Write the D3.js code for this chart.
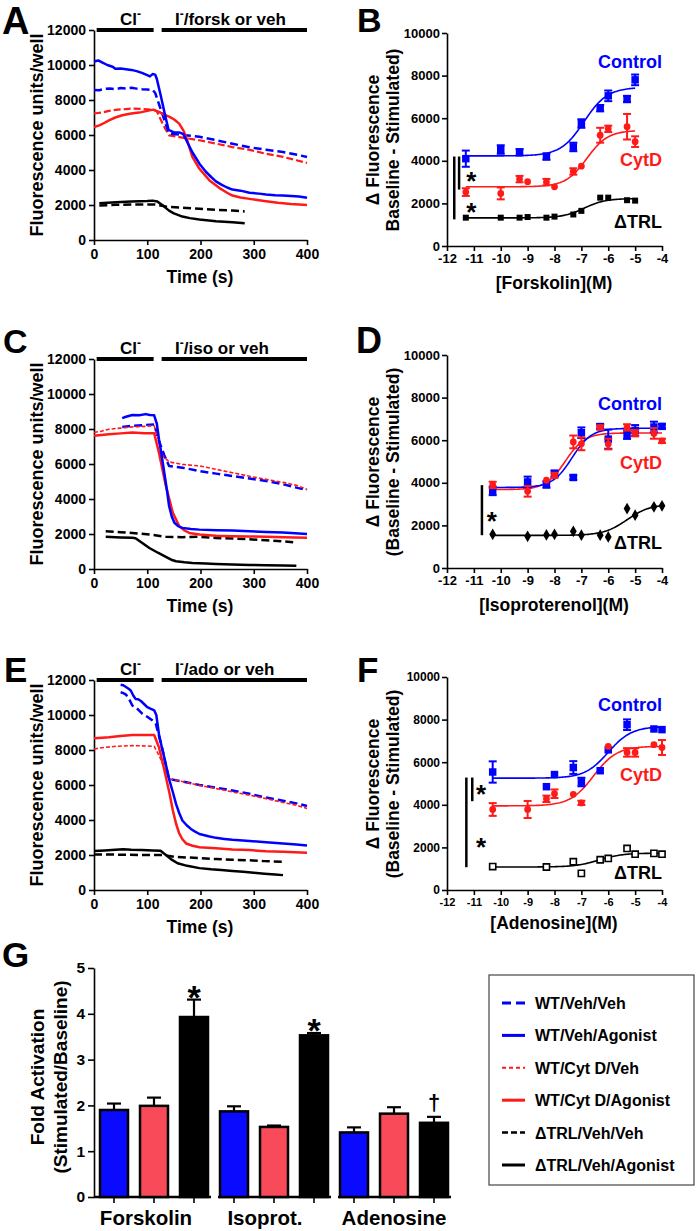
<!DOCTYPE html>
<html><head><meta charset="utf-8">
<script src="https://cdn.jsdelivr.net/npm/d3@7"></script>
<style>body{margin:0;background:#fff}svg{display:block}</style>
</head><body>
<svg id="c" width="697" height="1231"></svg>
<script>
// ---------------- DATA ----------------
// Time courses: [time (s), fluorescence units/well]
const aWtVeh = [[0,8570],[10,8560],[20,8640],[30,8660],[40,8620],[50,8680],[60,8660],[70,8700],[80,8650],[90,8620],[100,8600],[110,8580],[115,8400],[125,7500],[135,6600],[141,6080],[150,6050],[170,5990],[198,5900],[230,5700],[260,5500],[292,5300],[323,5160],[355,5030],[386,4840],[400,4740]];
const aWtAg = [[0,10200],[8,10260],[15,10150],[25,10000],[35,9900],[40,9780],[50,9800],[60,9760],[70,9720],[80,9650],[90,9550],[100,9420],[105,9350],[110,9480],[115,9450],[118,9200],[125,8300],[133,7200],[140,6300],[150,6150],[160,6150],[168,6050],[175,5600],[185,5000],[198,4360],[210,3900],[220,3600],[229,3350],[240,3150],[250,3000],[260,2880],[275,2820],[292,2700],[310,2650],[323,2600],[340,2560],[355,2540],[370,2520],[385,2480],[400,2410]];
const aCytVeh = [[0,7230],[15,7280],[28,7380],[45,7450],[60,7480],[72,7510],[90,7490],[100,7470],[111,7450],[118,7350],[125,6900],[133,6400],[141,5980],[160,5880],[198,5700],[230,5500],[260,5310],[292,5150],[323,4930],[355,4750],[380,4560],[400,4400]];
const aCytAg = [[0,6460],[10,6550],[20,6700],[28,6840],[40,7000],[53,7130],[70,7230],[85,7280],[100,7380],[111,7450],[122,7320],[133,7150],[141,7050],[150,6900],[160,6650],[168,6250],[173,5890],[180,5200],[185,4740],[198,4070],[210,3650],[217,3400],[235,2980],[250,2700],[260,2540],[275,2430],[292,2350],[310,2270],[323,2220],[345,2130],[370,2060],[400,2000]];
const aTrlVeh = [[10,1970],[40,2010],[70,2030],[100,2030],[115,2030],[135,1910],[166,1840],[198,1780],[229,1720],[260,1680],[283,1630]];
const aTrlAg = [[10,2100],[41,2160],[70,2200],[100,2230],[110,2250],[119,2200],[130,1950],[141,1680],[150,1520],[166,1340],[180,1250],[198,1170],[229,1070],[260,1010],[283,960]];

const cWtVeh = [[53,8120],[72,8180],[90,8220],[105,8250],[113,8260],[122,7320],[132,6500],[141,5890],[166,5790],[198,5600],[229,5450],[260,5310],[292,5170],[323,5030],[355,4840],[380,4650],[400,4510]];
const cWtAg = [[53,8620],[60,8700],[72,8800],[85,8780],[97,8850],[105,8800],[113,8780],[118,8300],[122,7420],[127,6500],[132,5500],[137,4500],[141,3600],[146,3000],[151,2640],[158,2450],[166,2350],[182,2280],[198,2250],[230,2220],[260,2200],[292,2160],[323,2120],[355,2080],[400,2000]];
const cCytVeh = [[0,7800],[15,7880],[28,7990],[50,8050],[72,8120],[95,8150],[113,8180],[120,7500],[129,6460],[141,6120],[166,5980],[198,5890],[229,5700],[260,5500],[292,5300],[323,5120],[355,4950],[380,4780],[400,4550]];
const cCytAg = [[0,7610],[28,7700],[50,7750],[72,7800],[95,7760],[113,7760],[122,6650],[135,4740],[148,3210],[160,2450],[170,2200],[179,2060],[198,1970],[229,1900],[260,1870],[292,1860],[323,1840],[355,1810],[400,1780]];
const cTrlVeh = [[22,2160],[50,2100],[72,2060],[104,1970],[135,1840],[166,1820],[198,1840],[229,1770],[260,1740],[292,1700],[323,1640],[355,1580],[374,1530]];
const cTrlAg = [[22,1840],[50,1800],[72,1780],[78,1760],[90,1500],[104,1200],[120,930],[135,690],[145,530],[154,440],[170,380],[185,340],[210,310],[229,290],[260,260],[292,230],[323,220],[355,200],[380,190]];

const eWtVeh = [[50,11300],[55,11250],[60,11170],[66,10900],[72,10540],[80,10400],[91,10060],[100,9900],[110,9680],[116,9500],[122,8800],[129,7980],[135,7100],[141,6340],[166,6200],[198,6000],[229,5850],[260,5690],[292,5500],[323,5280],[355,5100],[380,4950],[400,4800]];
const eWtAg = [[50,11730],[55,11700],[60,11600],[65,11500],[69,11400],[74,11100],[78,10920],[83,10900],[88,10800],[95,10600],[100,10450],[107,10350],[113,10270],[117,10000],[122,8900],[127,8200],[132,7570],[137,6900],[141,6340],[148,5600],[154,4920],[160,4400],[166,3970],[174,3700],[182,3490],[190,3330],[198,3200],[215,3070],[229,2980],[245,2920],[260,2870],[292,2800],[323,2730],[355,2660],[380,2600],[400,2540]];
const eCytVeh = [[0,8060],[20,8150],[41,8210],[72,8250],[100,8230],[113,8210],[122,7700],[129,7210],[135,6800],[141,6360],[166,6200],[198,5980],[229,5800],[260,5600],[292,5420],[323,5220],[355,5000],[380,4850],[400,4660]];
const eCytAg = [[0,8670],[15,8700],[28,8730],[50,8800],[72,8860],[90,8860],[113,8860],[122,8160],[128,7400],[135,6460],[142,5500],[148,4560],[154,3800],[160,3230],[166,2900],[173,2660],[185,2530],[198,2440],[229,2380],[260,2320],[292,2280],[323,2220],[355,2180],[400,2130]];
const eTrlVeh = [[0,2030],[30,2030],[60,2010],[90,2000],[128,2000],[150,1900],[175,1860],[198,1820],[230,1770],[260,1730],[290,1700],[320,1650],[355,1610]];
const eTrlAg = [[0,2230],[20,2260],[40,2300],[55,2330],[70,2300],[90,2280],[110,2260],[125,2240],[135,2000],[145,1750],[157,1530],[175,1380],[198,1250],[220,1180],[239,1140],[260,1090],[280,1040],[300,980],[320,930],[340,880],[355,850]];

const timeTicks = [0,100,200,300,400];
const fluorTicks = [0,2000,4000,6000,8000,10000,12000];
const stimBars = [[5,112],[127,400]];

// Dose responses: [log M, delta fluorescence, SEM]
const forskControl = [[-11.3,4100,380],[-10,4530,200],[-9.3,4400,150],[-8.3,4200,150],[-7.3,4650,200],[-7,5750,200],[-6.3,6470,150],[-6,7050,250],[-5.3,6900,150],[-5,7800,250]];
const forskCytD = [[-11.3,2530,180],[-10,2470,280],[-9.3,3140,150],[-9,3020,0],[-8.3,3000,150],[-8,2780,0],[-7.3,3500,150],[-7,3750,0],[-6.3,5200,350],[-6,5500,150],[-5.3,5600,600],[-5,4900,250]];
const forskTRL = [[-11.3,1330,0],[-10,1330,0],[-9.3,1330,0],[-9,1360,0],[-8.3,1330,0],[-8,1380,0],[-7.3,1480,0],[-7,1650,0],[-6.3,2270,0],[-6,2270,0],[-5.3,2150,0],[-5,2130,0]];
const isoControl = [[-10.3,3620,200],[-9,4040,250],[-8.3,3920,150],[-8,4430,150],[-7.3,4250,100],[-7,6350,250],[-6.3,6640,120],[-6,6050,450],[-5.3,6260,200],[-5,6460,250],[-4.3,6620,250],[-4,6650,100]];
const isoCytD = [[-10.3,3900,150],[-9,3600,250],[-8.3,4120,0],[-8,4350,120],[-7.3,5920,300],[-7,5830,300],[-6.3,6600,100],[-6,5820,250],[-5.3,6600,150],[-5,6330,150],[-4.3,6320,250],[-4,5970,100]];
const isoTRL = [[-10.3,1580,0],[-9,1490,0],[-8.3,1550,0],[-8,1580,0],[-7.3,1720,0],[-7,1540,0],[-6.3,1540,0],[-6,1460,0],[-5.3,2790,0],[-5,2480,0],[-4.3,2870,0],[-4,2920,0]];
const adoControl = [[-10.3,5540,500],[-8.3,4850,0],[-8,5420,0],[-7.3,5750,300],[-7,5070,200],[-6.3,5600,0],[-6,6580,0],[-5.3,7760,250],[-4.3,7560,0],[-4,7530,0]];
const adoCytD = [[-10.3,3780,300],[-9,3780,400],[-8.3,4280,150],[-8,4520,200],[-7.3,4490,0],[-7,4090,100],[-6,6740,0],[-5.3,6460,200],[-5,6460,200],[-4.3,6820,0],[-4,6690,350]];
const adoTRL = [[-10.3,1100,0],[-8.3,1080,0],[-7.3,1330,0],[-7,780,0],[-6.3,1420,0],[-6,1480,0],[-5.3,1950,0],[-5,1680,0],[-4.3,1720,0],[-4,1680,0]];

// Sigmoid fit parameters: [bottom, top, logEC50, hill]
const forskFitControl = [4230,7450,-6.9,1];
const forskFitCytD = [2780,5430,-6.8,1.1];
const forskFitTRL = [1320,2230,-6.9,1.1];
const isoFitControl = [3780,6560,-7.35,1.2];
const isoFitCytD = [3680,6340,-7.6,1.2];
const isoFitTRL = [1530,3000,-5.3,1];
const adoFitControl = [5250,7680,-6.0,1];
const adoFitCytD = [3950,6750,-6.55,1];
const adoFitTRL = [1080,1730,-6.35,1];

const logTicks = [-12,-11,-10,-9,-8,-7,-6,-5,-4];
const deltaTicks = [0,2000,4000,6000,8000,10000];

// Panel G
const gGroups = ["Forskolin","Isoprot.","Adenosine"];
const gSeries = ["WT","CytD","TRL"];
const gWT = [1.9,1.87,1.41];
const gWTerr = [0.14,0.11,0.11];
const gCytD = [1.99,1.53,1.82];
const gCytDerr = [0.18,0.03,0.14];
const gTRL = [3.93,3.53,1.62];
const gTRLerr = [0.38,0.05,0.13];
const gMarks = ["*","*","\u2020"];
const gTicks = [0,1,2,3,4,5];

const legendLabels = ["WT/Veh/Veh","WT/Veh/Agonist","WT/Cyt D/Veh","WT/Cyt D/Agonist","\u0394TRL/Veh/Veh","\u0394TRL/Veh/Agonist"];

// ---------------- DRAWING ----------------
const FONT = '"Liberation Sans", Arial, Helvetica, sans-serif';
const BLUE = "#0000ff", RED = "#ff1a1a";
const fmt = d3.format("d");
const svg = d3.select("#c").attr("font-family", FONT).attr("font-weight", "bold");

function styleAxis(g, fs) {
  g.attr("font-family", null).attr("font-size", null);
  g.selectAll("text").attr("font-size", fs).attr("font-weight", "bold").attr("fill", "#000");
  g.selectAll("path,line").attr("stroke", "#000").attr("stroke-width", 1.6);
}
function letter(t, x, y, fs) {
  svg.append("text").attr("x", x).attr("y", y).attr("font-size", fs).attr("font-weight", "bold").text(t);
}
function vTitle(lines, cx, cy, fs, gap) {
  lines.forEach((t, i) => {
    const bx = cx + i * gap + fs * 0.36;
    svg.append("text").attr("transform", `translate(${bx},${cy}) rotate(-90)`)
      .attr("text-anchor", "middle").attr("font-size", fs).text(t);
  });
}

function timePanel(o) {
  const x = d3.scaleLinear().domain([0,400]).range([94,307]);
  const y = d3.scaleLinear().domain([0,12000]).range([o.y0, o.y0 - 210]);
  const gy = svg.append("g").attr("transform", "translate(94,0)")
    .call(d3.axisLeft(y).tickValues(fluorTicks).tickFormat(fmt).tickSize(5).tickSizeOuter(0).tickPadding(3));
  styleAxis(gy, 14);
  const gx = svg.append("g").attr("transform", `translate(0,${o.y0})`)
    .call(d3.axisBottom(x).tickValues(timeTicks).tickFormat(fmt).tickSize(5).tickSizeOuter(0).tickPadding(4));
  styleAxis(gx, 14);
  svg.append("text").attr("x", 200).attr("y", o.y0 + 43).attr("text-anchor", "middle").attr("font-size", 17.5).text("Time (s)");
  vTitle(["Fluorescence units/well"], 37, o.y0 - 105, 18, 0);
  stimBars.forEach(b => {
    svg.append("line").attr("x1", x(b[0])).attr("x2", x(b[1])).attr("y1", y(12000)).attr("y2", y(12000))
      .attr("stroke", "#000").attr("stroke-width", 4);
  });
  const t1 = svg.append("text").attr("x", 120).attr("y", y(12000) - 5).attr("font-size", 17);
  t1.append("tspan").text("Cl");
  t1.append("tspan").attr("font-size", 12).attr("dy", -7).text("-");
  const t2 = svg.append("text").attr("x", 175).attr("y", y(12000) - 5).attr("font-size", 17);
  t2.append("tspan").text("I");
  t2.append("tspan").attr("font-size", 12).attr("dy", -7).text("-");
  t2.append("tspan").attr("dy", 7).text(o.stim);
  const line = d3.line().x(d => x(d[0])).y(d => y(d[1]));
  o.series.forEach(s => {
    svg.append("path").datum(s.data).attr("d", line).attr("fill", "none")
      .attr("stroke", s.color).attr("stroke-width", s.w)
      .attr("stroke-dasharray", s.dash || null).attr("stroke-linejoin", "round");
  });
}

timePanel({y0: 240, stim: "/forsk or veh", series: [
  {data: aTrlVeh, color: "#000", w: 2.5, dash: "8,4"},
  {data: aTrlAg, color: "#000", w: 2.5},
  {data: aCytVeh, color: RED, w: 2.2, dash: "7,3"},
  {data: aWtVeh, color: BLUE, w: 2.5, dash: "8,4"},
  {data: aCytAg, color: RED, w: 2.5},
  {data: aWtAg, color: BLUE, w: 2.5}
]});
timePanel({y0: 569, stim: "/iso or veh", series: [
  {data: cTrlVeh, color: "#000", w: 2.5, dash: "8,4"},
  {data: cTrlAg, color: "#000", w: 2.5},
  {data: cWtVeh, color: BLUE, w: 2.5, dash: "8,4"},
  {data: cCytVeh, color: RED, w: 1.6, dash: "4,2"},
  {data: cCytAg, color: RED, w: 2.5},
  {data: cWtAg, color: BLUE, w: 2.5}
]});
timePanel({y0: 890, stim: "/ado or veh", series: [
  {data: eTrlVeh, color: "#000", w: 2.5, dash: "8,4"},
  {data: eTrlAg, color: "#000", w: 2.5},
  {data: eWtVeh, color: BLUE, w: 2.5, dash: "8,4"},
  {data: eCytVeh, color: RED, w: 1.6, dash: "4,2"},
  {data: eCytAg, color: RED, w: 2.5},
  {data: eWtAg, color: BLUE, w: 2.5}
]});
letter("A", 2, 34, 38);
letter("C", 3, 353, 34);
letter("E", 4, 682, 35);

function dosePanel(o) {
  const x = d3.scaleLinear().domain([-12,-4]).range([447,662]);
  const y = d3.scaleLinear().domain([0,10000]).range([o.y0, o.y0 - 213]);
  const gy = svg.append("g").attr("transform", "translate(447,0)")
    .call(d3.axisLeft(y).tickValues(deltaTicks).tickFormat(fmt).tickSize(5).tickSizeOuter(0).tickPadding(2));
  styleAxis(gy, o.fsy);
  const gx = svg.append("g").attr("transform", `translate(0,${o.y0})`)
    .call(d3.axisBottom(x).tickValues(logTicks).tickFormat(d => (d < 0 ? "-" : "") + Math.abs(d)).tickSize(5).tickSizeOuter(0).tickPadding(3));
  styleAxis(gx, o.fsx);
  svg.append("text").attr("x", 554).attr("y", o.y0 + o.titleDy).attr("text-anchor", "middle").attr("font-size", 17.5).text(o.xTitle);
  vTitle(["\u0394 Fluorescence", o.yTitle2], 373, o.y0 - 106, 17.5, 20);
  const grp = [
    {data: o.control, fit: o.fitControl, color: BLUE, shape: "sq"},
    {data: o.cytd, fit: o.fitCytD, color: RED, shape: "ci"},
    {data: o.trl, fit: o.fitTRL, color: "#000", shape: o.trlShape}
  ];
  const ext = d3.extent(o.trl, d => d[0]);
  const xs = d3.range(ext[0], ext[1] + 0.001, 0.05);
  const line = d3.line().x(d => x(d[0])).y(d => y(d[1]));
  grp.slice().reverse().forEach(g => {
    const [b, t, ec, h] = g.fit;
    const pts = xs.map(v => [v, b + (t - b) / (1 + Math.pow(10, (ec - v) * h))]);
    svg.append("path").datum(pts).attr("d", line).attr("fill", "none").attr("stroke", g.color).attr("stroke-width", 1.6);
  });
  grp.forEach(g => {
    g.data.filter(d => d[2] > 0).forEach(d => {
      const eg = svg.append("g").attr("stroke", g.color).attr("stroke-width", 2);
      eg.append("line").attr("x1", x(d[0])).attr("x2", x(d[0])).attr("y1", y(d[1] - d[2])).attr("y2", y(d[1] + d[2]));
      [d[1] - d[2], d[1] + d[2]].forEach(v => eg.append("line").attr("x1", x(d[0]) - 4).attr("x2", x(d[0]) + 4).attr("y1", y(v)).attr("y2", y(v)));
    });
    g.data.forEach(d => {
      let sym, size, fill = g.color, stroke = "none";
      if (g.shape === "sq") { sym = d3.symbolSquare; size = g.color === "#000" ? 36 : 56; }
      else if (g.shape === "ci") { sym = d3.symbolCircle; size = 36; }
      else if (g.shape === "di") { sym = d3.symbolDiamond; size = 40; }
      else { sym = d3.symbolSquare; size = 38; fill = "#fff"; stroke = "#000"; }
      svg.append("path").attr("d", d3.symbol(sym, size)).attr("transform", `translate(${x(d[0])},${y(d[1])})`)
        .attr("fill", fill).attr("stroke", stroke).attr("stroke-width", 1.6);
    });
  });
  o.labels.forEach((l, i) => {
    svg.append("text").attr("x", x(-4)).attr("y", y(l[1]) + 6.5).attr("text-anchor", "end")
      .attr("font-size", 18).attr("fill", grp[i].color).text(l[0]);
  });
  o.sig.forEach(s => {
    svg.append("line").attr("x1", x(s[0])).attr("x2", x(s[0])).attr("y1", y(s[1])).attr("y2", y(s[2]))
      .attr("stroke", "#000").attr("stroke-width", 2.5);
  });
  o.stars.forEach(s => {
    svg.append("text").attr("x", x(s[0])).attr("y", y(s[1]) + 14).attr("text-anchor", "middle").attr("font-size", 26).text("*");
  });
}

dosePanel({y0: 246, fsy: 13, fsx: 13, titleDy: 43, xTitle: "[Forskolin](M)", yTitle2: "Baseline - Stimulated)",
  control: forskControl, cytd: forskCytD, trl: forskTRL, trlShape: "sq",
  fitControl: forskFitControl, fitCytD: forskFitCytD, fitTRL: forskFitTRL,
  labels: [["Control", 8640], ["CytD", 4040], ["\u0394TRL", 1130]],
  sig: [[-11.73, 4200, 1250], [-11.55, 4200, 2650]],
  stars: [[-11.1, 3300], [-11.1, 1840]]});
dosePanel({y0: 568, fsy: 13, fsx: 13, titleDy: 43, xTitle: "[Isoproterenol](M)", yTitle2: "(Baseline - Stimulated)",
  control: isoControl, cytd: isoCytD, trl: isoTRL, trlShape: "di",
  fitControl: isoFitControl, fitCytD: isoFitCytD, fitTRL: isoFitTRL,
  labels: [["Control", 7746], ["CytD", 4930], ["\u0394TRL", 1220]],
  sig: [[-10.7, 3890, 1540]],
  stars: [[-10.33, 2430]]});
dosePanel({y0: 890, fsy: 12, fsx: 11, titleDy: 39, xTitle: "[Adenosine](M)", yTitle2: "(Baseline - Stimulated)",
  control: adoControl, cytd: adoCytD, trl: adoTRL, trlShape: "open",
  fitControl: adoFitControl, fitCytD: adoFitCytD, fitTRL: adoFitTRL,
  labels: [["Control", 8726], ["CytD", 5425], ["\u0394TRL", 802]],
  sig: [[-11.28, 5280, 1070], [-11.06, 5280, 4170]],
  stars: [[-10.73, 4720], [-10.73, 2240]]});
letter("B", 357, 32, 34);
letter("D", 356, 353, 36);
letter("F", 357, 682, 35);

// ---------------- Panel G ----------------
const gy0 = 1197;
const yG = d3.scaleLinear().domain([0,5]).range([gy0, 968]);
const xGroup = d3.scaleBand().domain(gGroups).range([94,454]);
const xSer = d3.scaleBand().domain(gSeries).range([0,120]).paddingInner(0.3).paddingOuter(0.15);
const gAx = svg.append("g").attr("transform", "translate(94,0)")
  .call(d3.axisLeft(yG).tickValues(gTicks).tickFormat(fmt).tickSize(6).tickSizeOuter(0).tickPadding(3));
styleAxis(gAx, 15.5);
const seriesVals = [gWT, gCytD, gTRL];
const seriesErr = [gWTerr, gCytDerr, gTRLerr];
const seriesFill = ["#0a0aff", "#f94a5a", "#000"];
gGroups.forEach((grp, gi) => {
  const gx0 = xGroup(grp);
  svg.append("line").attr("x1", gx0 + (gi === 0 ? 0 : 4)).attr("x2", gx0 + xGroup.bandwidth() - 3)
    .attr("y1", gy0).attr("y2", gy0).attr("stroke", "#000").attr("stroke-width", 2.5);
  gSeries.forEach((s, si) => {
    const bx = gx0 + xSer(s), bw = xSer.bandwidth();
    const v = seriesVals[si][gi], e = seriesErr[si][gi];
    svg.append("line").attr("x1", bx + bw / 2).attr("x2", bx + bw / 2).attr("y1", yG(v)).attr("y2", yG(v + e)).attr("stroke", "#000").attr("stroke-width", 2.2);
    svg.append("line").attr("x1", bx + bw / 2 - 7).attr("x2", bx + bw / 2 + 7).attr("y1", yG(v + e)).attr("y2", yG(v + e)).attr("stroke", "#000").attr("stroke-width", 2.2);
    svg.append("rect").attr("x", bx).attr("y", yG(v)).attr("width", bw).attr("height", gy0 - yG(v))
      .attr("fill", seriesFill[si]).attr("stroke", "#000").attr("stroke-width", 2.5);
    svg.append("line").attr("x1", bx + bw / 2).attr("x2", bx + bw / 2).attr("y1", gy0).attr("y2", gy0 + 6).attr("stroke", "#000").attr("stroke-width", 1.6);
  });
  const bx = gx0 + xSer("TRL") + xSer.bandwidth() / 2;
  const top = yG(gTRL[gi] + gTRLerr[gi]);
  if (gMarks[gi] === "*") {
    svg.append("text").attr("x", bx).attr("y", top + 9).attr("text-anchor", "middle").attr("font-size", 34).text("*");
  } else {
    svg.append("text").attr("x", bx).attr("y", top - 7).attr("text-anchor", "middle").attr("font-size", 22).text(gMarks[gi]);
  }
});
const labelShift = [-8, -9, 0];
gGroups.forEach((grp, gi) => {
  svg.append("text").attr("x", xGroup(grp) + xGroup.bandwidth() / 2 + labelShift[gi]).attr("y", 1225)
    .attr("text-anchor", "middle").attr("font-size", 20.5).text(grp);
});
vTitle(["Fold Activation", "(Stimulated/Baseline)"], 37, 1077, 19, 23);
letter("G", 2, 967, 35);

// legend
svg.append("rect").attr("x", 489).attr("y", 975).attr("width", 205).attr("height", 210)
  .attr("fill", "#fff").attr("stroke", "#444").attr("stroke-width", 1.2);
const legStyle = [
  {color: BLUE, dash: "9,5", w: 3},
  {color: BLUE, dash: null, w: 3},
  {color: RED, dash: "4,3", w: 2},
  {color: RED, dash: null, w: 3},
  {color: "#000", dash: "6,3", w: 2.5},
  {color: "#000", dash: null, w: 3}
];
const legY = d3.scalePoint().domain(legendLabels).range([1003, 1165]);
legendLabels.forEach((l, i) => {
  const yy = legY(l);
  svg.append("line").attr("x1", 502).attr("x2", 525).attr("y1", yy).attr("y2", yy)
    .attr("stroke", legStyle[i].color).attr("stroke-width", legStyle[i].w).attr("stroke-dasharray", legStyle[i].dash);
  svg.append("text").attr("x", 535).attr("y", yy + 6).attr("font-size", 16).text(l);
});
</script>
</body></html>
